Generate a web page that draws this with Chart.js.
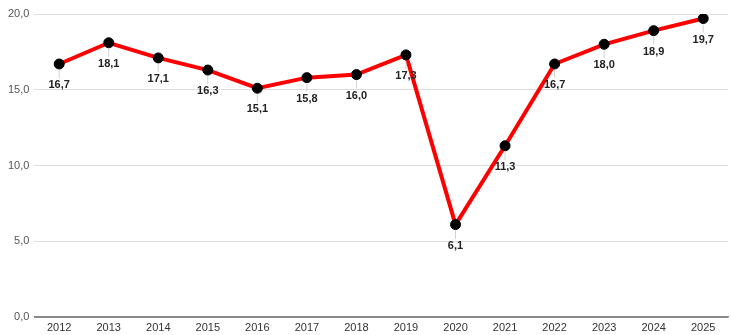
<!doctype html>
<html lang="en">
  <head>
    <meta charset="UTF-8" />
    <title>Line chart 2012-2025</title>
    <script src="https://cdn.jsdelivr.net/npm/chart.js"></script>
    <style>
      body {
        margin: 0;
        background: #ffffff;
        overflow: hidden;
      }
      /* slightly wider than the window: the line's point overflow reserves ~6px on the right */
      #wrap {
        width: 734px;
        height: 335px;
        position: relative;
      }
    </style>
  </head>
  <body>
    <div id="wrap"><canvas id="chart"></canvas></div>
    <script>
      const years = ["2012", "2013", "2014", "2015", "2016", "2017", "2018", "2019", "2020", "2021", "2022", "2023", "2024", "2025"];
      const values = [16.7, 18.1, 17.1, 16.3, 15.1, 15.8, 16.0, 17.3, 6.1, 11.3, 16.7, 18.0, 18.9, 19.7];

      const fmt = (v) => v.toFixed(1).replace(".", ",");
      const FONT = "'Liberation Sans', Arial, sans-serif";

      // labels under each point, with a faint leader line
      const pointLabels = {
        id: "pointLabels",
        afterDatasetsDraw(chart) {
          const ctx = chart.ctx;
          const meta = chart.getDatasetMeta(0);
          ctx.save();
          meta.data.forEach((pt, i) => {
            ctx.strokeStyle = "rgba(190,190,190,0.7)";
            ctx.lineWidth = 1;
            ctx.beginPath();
            ctx.moveTo(pt.x, pt.y + 6);
            ctx.lineTo(pt.x, pt.y + 14);
            ctx.stroke();
            ctx.fillStyle = "#222";
            ctx.font = "bold 11px " + FONT;
            ctx.textAlign = "center";
            ctx.textBaseline = "middle";
            ctx.fillText(fmt(values[i]), pt.x, pt.y + 21);
          });
          ctx.restore();
        },
      };

      new Chart(document.getElementById("chart"), {
        type: "line",
        data: {
          labels: years,
          datasets: [
            {
              data: values,
              borderColor: "#ff0000",
              borderWidth: 4,
              pointBackgroundColor: "#000",
              pointBorderColor: "#000",
              pointBorderWidth: 1,
              pointRadius: 5,
              tension: 0,
            },
          ],
        },
        options: {
          responsive: true,
          maintainAspectRatio: false,
          animation: false,
          layout: { padding: { top: 14, right: 0, left: 3 } },
          plugins: {
            legend: { display: false },
            tooltip: { enabled: false },
          },
          scales: {
            x: {
              offset: true,
              grid: { display: false, drawTicks: false },
              border: { color: "#888", width: 1.5 },
              ticks: { color: "#333", font: { size: 11, family: FONT }, padding: 4 },
              afterFit: (s) => {
                s.height = 18;
              },
            },
            y: {
              min: 0,
              max: 20,
              ticks: {
                stepSize: 5,
                color: "#555",
                padding: 5,
                font: { size: 11, family: FONT },
                callback: (v) => fmt(v),
              },
              border: { display: false },
              grid: {
                drawTicks: false,
                color: (c) => (c.tick.value === 0 ? "#888" : "#dddddd"),
              },
            },
          },
        },
        plugins: [pointLabels],
      });
    </script>
  </body>
</html>
